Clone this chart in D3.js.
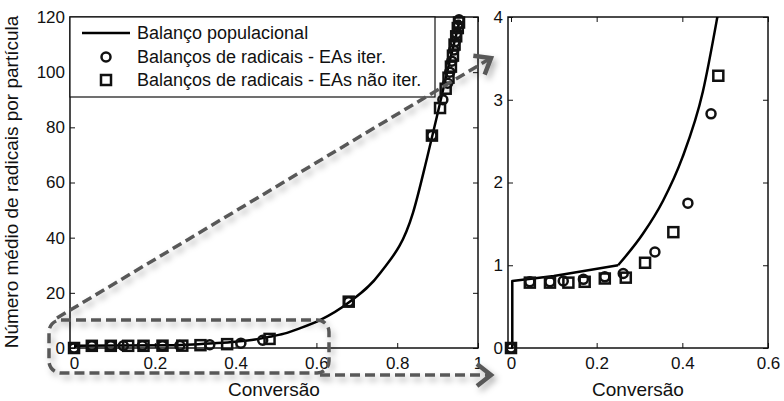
<!DOCTYPE html>
<html>
<head>
<meta charset="utf-8">
<script src="https://cdn.jsdelivr.net/npm/d3@7"></script>
<style>
  body { margin: 0; background: #fff; }
  svg text { font-family: "Liberation Sans", Arial, sans-serif; fill: #111; }
</style>
</head>
<body>
<svg id="chart" width="784" height="401"></svg>
<script>
// population balance curve: low-conversion part (straight pieces) and the rising part (smooth)
var curveLowX = [0, 0.003, 0.003, 0.1, 0.25];
var curveLowY = [0, 0, 0.81, 0.87, 1.0];
var curveHighX = [0.25, 0.308, 0.355, 0.40, 0.448, 0.48, 0.52, 0.56, 0.61, 0.68, 0.757, 0.839, 0.874, 0.9, 0.93, 0.955];
var curveHighY = [1.0, 1.38, 1.78, 2.3, 3.1, 3.95, 5.2, 7.2, 10.2, 16.5, 27, 49, 69, 85, 104, 119];

// radical balances, iterative
var circX = [0, 0.044, 0.091, 0.122, 0.169, 0.219, 0.262, 0.336, 0.413, 0.467, 0.68, 0.886, 0.913, 0.925, 0.93, 0.935, 0.94, 0.943, 0.947, 0.95, 0.953];
var circY = [0, 0.8, 0.8, 0.81, 0.83, 0.86, 0.9, 1.16, 1.75, 2.83, 16.8, 77, 90, 96, 100, 104, 108, 111, 114, 117, 119];

// radical balances, non-iterative
var sqX = [0, 0.044, 0.091, 0.134, 0.172, 0.219, 0.268, 0.313, 0.379, 0.484, 0.68, 0.886, 0.906, 0.92, 0.927, 0.933, 0.938, 0.942, 0.946, 0.95, 0.953];
var sqY = [0, 0.79, 0.79, 0.79, 0.8, 0.84, 0.85, 1.03, 1.4, 3.29, 16.8, 77, 87, 94, 98, 102, 106, 110, 113, 116, 118];

var leftXTicks = [0, 0.2, 0.4, 0.6, 0.8, 1];
var leftYTicks = [0, 20, 40, 60, 80, 100, 120];
var rightXTicks = [0, 0.2, 0.4, 0.6];
var rightYTicks = [0, 1, 2, 3, 4];

var legendLabels = ["Balanço populacional", "Balanços de radicais - EAs iter.", "Balanços de radicais - EAs não iter."];

var svg = d3.select("#chart");
var tickFont = 17;

var defs = svg.append("defs");
var shadow = defs.append("filter").attr("id", "shadow")
  .attr("x", "-20%").attr("y", "-20%").attr("width", "140%").attr("height", "160%");
shadow.append("feDropShadow")
  .attr("dx", 3).attr("dy", 4).attr("stdDeviation", 3)
  .attr("flood-color", "#000").attr("flood-opacity", 0.3);

defs.append("marker")
  .attr("id", "chev")
  .attr("markerUnits", "userSpaceOnUse")
  .attr("viewBox", "-18 -14 22 28")
  .attr("markerWidth", 22).attr("markerHeight", 28)
  .attr("refX", 0).attr("refY", 0)
  .attr("orient", "auto")
  .append("path")
  .attr("d", "M-14,-11 L0,0 L-14,11")
  .attr("fill", "none")
  .attr("stroke", "#595959")
  .attr("stroke-width", 4.5);

function pairs(xs, ys) { return xs.map(function(d, i) { return [d, ys[i]]; }); }
var curveLow = pairs(curveLowX, curveLowY);
var curveHigh = pairs(curveHighX, curveHighY);
var circs = pairs(circX, circY);
var squares = pairs(sqX, sqY);

function panel(cfg) {
  var x = d3.scaleLinear().domain(cfg.xDomain).range([cfg.left, cfg.right]);
  var y = d3.scaleLinear().domain(cfg.yDomain).range([cfg.bottom, cfg.top]);
  var g = svg.append("g");

  var clipId = "clip" + cfg.id;
  defs.append("clipPath").attr("id", clipId)
    .append("rect")
    .attr("x", cfg.left).attr("y", cfg.top)
    .attr("width", cfg.right - cfg.left).attr("height", cfg.bottom - cfg.top);

  // axes (MATLAB style, ticks inward on all four sides)
  var fmt = function(d) { return String(d); };
  var bottom = g.append("g")
    .attr("transform", "translate(0," + cfg.bottom + ")")
    .call(d3.axisBottom(x).tickValues(cfg.xTicks).tickFormat(fmt).tickSizeInner(-5).tickSizeOuter(0).tickPadding(6));
  var left = g.append("g")
    .attr("transform", "translate(" + cfg.left + ",0)")
    .call(d3.axisLeft(y).tickValues(cfg.yTicks).tickFormat(fmt).tickSizeInner(-5).tickSizeOuter(0).tickPadding(5));
  var top = g.append("g")
    .attr("transform", "translate(0," + cfg.top + ")")
    .call(d3.axisTop(x).tickValues(cfg.xTicks).tickFormat("").tickSizeInner(-5).tickSizeOuter(0));
  var right = g.append("g")
    .attr("transform", "translate(" + cfg.right + ",0)")
    .call(d3.axisRight(y).tickValues(cfg.yTicks).tickFormat("").tickSizeInner(-5).tickSizeOuter(0));

  [bottom, left, top, right].forEach(function(a) {
    a.select(".domain").remove();
    a.selectAll(".tick line").attr("stroke", "#111").attr("stroke-width", 1);
    a.selectAll("text").attr("font-size", tickFont).attr("fill", "#111")
      .style("font-family", "'Liberation Sans', Arial, sans-serif");
  });
  bottom.selectAll("text").attr("dy", "0.9em");

  g.append("rect")
    .attr("x", cfg.left).attr("y", cfg.top)
    .attr("width", cfg.right - cfg.left).attr("height", cfg.bottom - cfg.top)
    .attr("fill", "none").attr("stroke", "#111").attr("stroke-width", 1.5);

  var lineLow = d3.line().x(function(d) { return x(d[0]); }).y(function(d) { return y(d[1]); });
  var lineHigh = d3.line().curve(d3.curveMonotoneX).x(function(d) { return x(d[0]); }).y(function(d) { return y(d[1]); });
  var curves = g.append("g").attr("clip-path", "url(#" + clipId + ")");
  curves.append("path")
    .datum(curveLow)
    .attr("d", lineLow)
    .attr("fill", "none").attr("stroke", "#000").attr("stroke-width", 2.5)
    .attr("stroke-linejoin", "round");
  curves.append("path")
    .datum(curveHigh)
    .attr("d", lineHigh)
    .attr("fill", "none").attr("stroke", "#000").attr("stroke-width", 2.5);

  function inside(d) {
    return d[0] >= cfg.xDomain[0] && d[0] <= cfg.xDomain[1] && d[1] >= cfg.yDomain[0] && d[1] <= cfg.yDomain[1];
  }

  g.append("g").selectAll("circle")
    .data(circs.filter(inside))
    .enter().append("circle")
    .attr("cx", function(d) { return x(d[0]); })
    .attr("cy", function(d) { return y(d[1]); })
    .attr("r", 4.5)
    .attr("fill", "none").attr("stroke", "#111").attr("stroke-width", 2.5);

  g.append("g").selectAll("rect")
    .data(squares.filter(inside))
    .enter().append("rect")
    .attr("x", function(d) { return x(d[0]) - 5; })
    .attr("y", function(d) { return y(d[1]) - 5; })
    .attr("width", 10).attr("height", 10)
    .attr("fill", "none").attr("stroke", "#111").attr("stroke-width", 2.5);

  g.append("text")
    .attr("x", (cfg.left + cfg.right) / 2).attr("y", 396)
    .attr("text-anchor", "middle")
    .attr("font-size", 19)
    .text("Conversão");

  return g;
}

panel({ id: "L", left: 70, right: 478, top: 17, bottom: 348,
  xDomain: [-0.01, 1], yDomain: [0, 120], xTicks: leftXTicks, yTicks: leftYTicks });
panel({ id: "R", left: 508, right: 768, top: 17, bottom: 348,
  xDomain: [-0.007, 0.6], yDomain: [0, 4], xTicks: rightXTicks, yTicks: rightYTicks });

svg.append("text")
  .attr("transform", "translate(18,182) rotate(-90)")
  .attr("text-anchor", "middle")
  .attr("font-size", 19)
  .text("Número médio de radicais por partícula");

// legend
var lg = svg.append("g");
lg.append("rect")
  .attr("x", 70).attr("y", 17).attr("width", 365).attr("height", 80)
  .attr("fill", "#fff").attr("stroke", "#111").attr("stroke-width", 1.2);
var rows = [33, 57, 80];
lg.append("line").attr("x1", 82).attr("x2", 130).attr("y1", rows[0]).attr("y2", rows[0])
  .attr("stroke", "#000").attr("stroke-width", 2.5);
lg.append("circle").attr("cx", 106).attr("cy", rows[1]).attr("r", 4.5)
  .attr("fill", "none").attr("stroke", "#111").attr("stroke-width", 2.5);
lg.append("rect").attr("x", 101).attr("y", rows[2] - 5).attr("width", 10).attr("height", 10)
  .attr("fill", "none").attr("stroke", "#111").attr("stroke-width", 2.5);
lg.selectAll("text.lab")
  .data(legendLabels)
  .enter().append("text")
  .attr("class", "lab")
  .attr("x", 137)
  .attr("y", function(d, i) { return rows[i]; })
  .attr("dy", "0.35em")
  .attr("font-size", 18)
  .text(function(d) { return d; });

// zoom annotation: dashed box and arrows
var ann = svg.append("g").attr("filter", "url(#shadow)");
ann.append("rect")
  .attr("x", 49).attr("y", 320).attr("width", 280).attr("height", 53)
  .attr("rx", 12).attr("ry", 12)
  .attr("fill", "none").attr("stroke", "#595959").attr("stroke-width", 3.5)
  .attr("stroke-dasharray", "10,5");
ann.append("line")
  .attr("x1", 57).attr("y1", 318).attr("x2", 491).attr("y2", 58)
  .attr("stroke", "#595959").attr("stroke-width", 3.5)
  .attr("stroke-dasharray", "10,5")
  .attr("marker-end", "url(#chev)");
ann.append("line")
  .attr("x1", 320).attr("y1", 375).attr("x2", 491).attr("y2", 375)
  .attr("stroke", "#595959").attr("stroke-width", 3.5)
  .attr("stroke-dasharray", "10,5")
  .attr("marker-end", "url(#chev)");
</script>
</body>
</html>
